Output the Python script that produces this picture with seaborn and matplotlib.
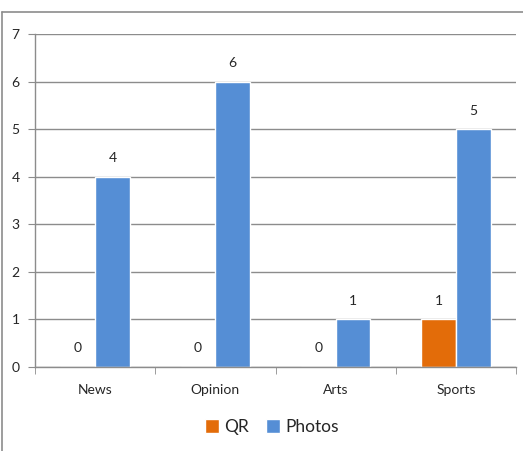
import matplotlib
matplotlib.use("Agg")
import matplotlib.pyplot as plt
import seaborn as sns
import pandas as pd
from matplotlib.patches import Patch
from matplotlib.lines import Line2D

categories = ["News", "Opinion", "Arts", "Sports"]
qr_values = [0, 0, 0, 1]
photo_values = [4, 6, 1, 5]
series_names = ["QR", "Photos"]
y_ticks = [0, 1, 2, 3, 4, 5, 6, 7]
colors = ["#E36C09", "#558ED5"]

df = pd.DataFrame({
    "Category": categories * 2,
    "Series": [series_names[0]] * 4 + [series_names[1]] * 4,
    "Value": qr_values + photo_values,
})

sns.set_style("white")
plt.rcParams["font.family"] = ["Lato", "DejaVu Sans"]

fig = plt.figure(figsize=(5.23, 4.51), dpi=100)
ax = fig.add_axes([35 / 523, 1 - 367 / 451, (516 - 35) / 523, (367 - 34) / 451])

sns.barplot(data=df, x="Category", y="Value", hue="Series", palette=colors,
            width=0.58, ax=ax, legend=False, saturation=1)

ax.set_ylim(0, 7)
ax.set_xlim(-0.5, 3.5)
ax.set_yticks(y_ticks)
ax.set_xlabel("")
ax.set_ylabel("")
grid_c = "#8C8C8C"
ax.yaxis.grid(True, color=grid_c, linewidth=1)
ax.set_axisbelow(True)
for s in ["top", "right"]:
    ax.spines[s].set_visible(False)
for s in ["left", "bottom"]:
    ax.spines[s].set_color(grid_c)
    ax.spines[s].set_linewidth(1)

ax.tick_params(axis="y", length=5, color=grid_c, labelsize=10, pad=6, left=True)
ax.set_xticks([0, 1, 2, 3])
ax.set_xticklabels(categories)
ax.tick_params(axis="x", length=0, labelsize=10, pad=12)
# category boundary ticks
ax.set_xticks([-0.5, 0.5, 1.5, 2.5, 3.5], minor=True)
ax.tick_params(axis="x", which="minor", length=5, color=grid_c, bottom=True)

for container in ax.containers:
    ax.bar_label(container, labels=[f"{int(v)}" for v in container.datavalues],
                 padding=9, fontsize=10)

handles = [Patch(facecolor=colors[0], label=series_names[0]),
           Patch(facecolor=colors[1], label=series_names[1])]
fig.legend(handles=handles, loc="center", bbox_to_anchor=(272 / 523, 1 - 427 / 451),
           ncol=2, frameon=False, fontsize=12.5, handlelength=0.8, handleheight=0.8,
           handletextpad=0.3, columnspacing=1.0)

# outer chart border (partially visible)
border_c = "#8C8C8C"
fig.add_artist(Line2D([2 / 523, 2 / 523], [0, 1 - 12 / 451], color=border_c, lw=1.2, transform=fig.transFigure))
fig.add_artist(Line2D([2 / 523, 1], [1 - 12 / 451, 1 - 12 / 451], color=border_c, lw=1.2, transform=fig.transFigure))

fig.savefig("out.png", dpi=100)
